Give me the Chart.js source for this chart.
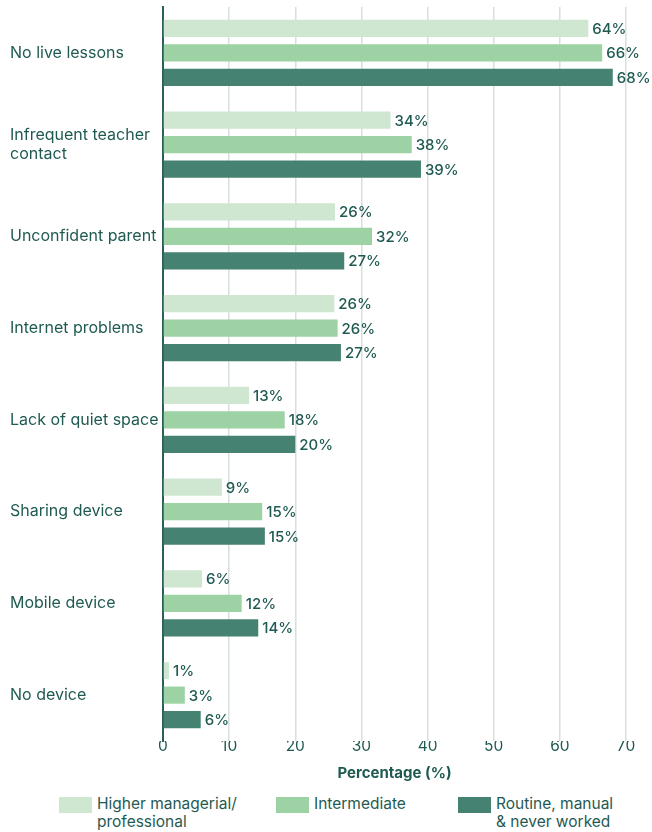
<!DOCTYPE html>
<html>
<head>
<meta charset="utf-8">
<script src="https://cdn.jsdelivr.net/npm/chart.js@4"></script>
<style>
    body { margin: 0; background: #fff; font-family: Inter, sans-serif; color: #1f5a52; }
    #wrap { position: relative; width: 652px; height: 832px; }
    #box { position: absolute; left: 0; top: 0; width: 652px; height: 788px; }
    .leg { position: absolute; top: 797px; font-size: 15.5px; line-height: 18px; }
    .leg span { position: absolute; left: 0; top: 0; width: 33px; height: 16px; }
    .leg div { position: absolute; left: 38px; top: -2px; white-space: nowrap; }
</style>
</head>
<body>
<div id="wrap">
    <div id="box"><canvas id="myChart"></canvas></div>
    <div id="legend"></div>
</div>
<script>
const categories = [
    "No live lessons",
    ["Infrequent teacher", "contact"],
    "Unconfident parent",
    "Internet problems",
    "Lack of quiet space",
    "Sharing device",
    "Mobile device",
    "No device"
];
const seriesNames = [["Higher managerial/", "professional"], ["Intermediate"], ["Routine, manual", "& never worked"]];
const higherValues = [64.3, 34.4, 26.0, 25.9, 13.0, 8.9, 5.9, 0.9];
const intermediateValues = [66.4, 37.6, 31.6, 26.4, 18.4, 15.0, 11.9, 3.3];
const routineValues = [68.0, 39.0, 27.4, 26.9, 20.0, 15.4, 14.4, 5.7];
const xTicks = [0, 10, 20, 30, 40, 50, 60, 70];
const colours = ["#cfe6d1", "#9cd2a4", "#468271"];
const textColour = "#1f5a52";

// value labels at the end of each bar
const barLabels = {
    id: "barLabels",
    afterDatasetsDraw(chart) {
        const ctx = chart.ctx;
        ctx.save();
        ctx.font = "500 15px Inter, sans-serif";
        ctx.fillStyle = textColour;
        ctx.textAlign = "left";
        ctx.textBaseline = "middle";
        chart.data.datasets.forEach(function (ds, i) {
            chart.getDatasetMeta(i).data.forEach(function (bar, j) {
                ctx.fillText(Math.round(ds.data[j]) + "%", bar.x + 4, bar.y + 1);
            });
        });
        ctx.restore();
    }
};

var data = {
    labels: categories,
    datasets: [
        { label: "Higher managerial/professional", data: higherValues, backgroundColor: colours[0] },
        { label: "Intermediate", data: intermediateValues, backgroundColor: colours[1] },
        { label: "Routine, manual & never worked", data: routineValues, backgroundColor: colours[2] }
    ]
};

var config = {
    type: "bar",
    data,
    options: {
        indexAxis: "y",
        responsive: true,
        maintainAspectRatio: false,
        animation: false,
        categoryPercentage: 0.8,
        barPercentage: 0.7,
        layout: { padding: { left: 10, right: 26, top: 7, bottom: 0 } },
        plugins: { legend: { display: false }, tooltip: { enabled: false } },
        scales: {
            x: {
                min: 0,
                max: 70,
                afterBuildTicks(scale) { scale.ticks = xTicks.map(v => ({ value: v })); },
                afterFit(scale) { scale.height = 47; },
                grid: { color: "#d6e0de", lineWidth: 1.5, drawTicks: false },
                border: { display: false },
                ticks: { color: textColour, font: { family: "Inter", size: 15.5 }, padding: -4 },
                title: {
                    display: true,
                    text: "Percentage (%)",
                    color: textColour,
                    font: { family: "Inter", size: 15, weight: "bold" },
                    padding: { top: 0, bottom: 6 }
                }
            },
            y: {
                afterFit(scale) {
                    scale.width = 153;
                    scale.paddingTop = 0;
                    scale.paddingBottom = 0;
                },
                grid: { display: false },
                border: { display: true, color: "#2d5f59", width: 2 },
                ticks: { color: textColour, crossAlign: "far", font: { family: "Inter", size: 16 } }
            }
        }
    },
    plugins: [barLabels]
};

var myChart = new Chart(document.getElementById("myChart"), config);

// two-line legend in html
var legendLeft = [59, 276, 458];
var el = document.getElementById("legend");
for (var i = 0; i < seriesNames.length; i++) {
    var item = document.createElement("div");
    item.className = "leg";
    item.style.left = legendLeft[i] + "px";
    item.innerHTML = '<span style="background:' + colours[i] + '"></span><div>' + seriesNames[i].join("<br>") + "</div>";
    el.appendChild(item);
}
</script>
</body>
</html>
